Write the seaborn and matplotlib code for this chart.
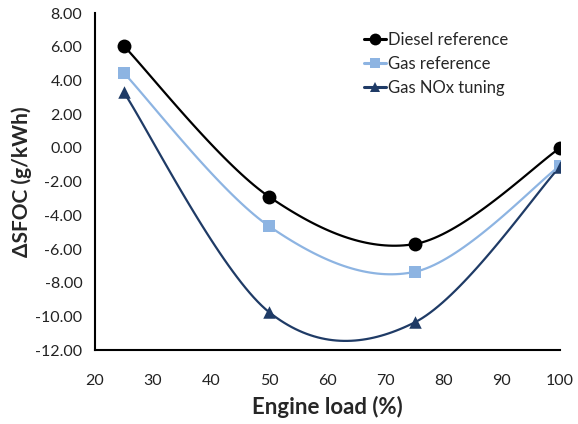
import numpy as np
import pandas as pd
import matplotlib
matplotlib.use("Agg")
import matplotlib.pyplot as plt
from matplotlib.lines import Line2D
import seaborn as sns

engine_load = [25, 50, 75, 100]
diesel_ref = [6.05, -2.90, -5.70, 0.00]
gas_ref = [4.45, -4.65, -7.35, -1.05]
gas_nox = [3.30, -9.75, -10.35, -1.10]

series_names = ["Diesel reference", "Gas reference", "Gas NOx tuning"]
series_values = [diesel_ref, gas_ref, gas_nox]
colors = ["#000000", "#8DB4E2", "#1F3B66"]
markers = ["o", "s", "^"]
marker_sizes = [10, 8, 9]


def smooth(xs, ys, n=40):
    # excel-like smoothed line: catmull-rom as cubic bezier segments
    pts = np.column_stack([xs, ys]).astype(float)
    out = []
    for i in range(len(pts) - 1):
        p0 = pts[i - 1] if i > 0 else pts[i]
        p1 = pts[i]
        p2 = pts[i + 1]
        p3 = pts[i + 2] if i + 2 < len(pts) else pts[i + 1]
        c1 = p1 + (p2 - p0) / 6
        c2 = p2 - (p3 - p1) / 6
        t = np.linspace(0, 1, n)[:, None]
        seg = ((1 - t) ** 3) * p1 + 3 * ((1 - t) ** 2) * t * c1 + 3 * (1 - t) * t ** 2 * c2 + t ** 3 * p2
        out.append(seg if i == 0 else seg[1:])
    out = np.vstack(out)
    return out[:, 0], out[:, 1]


sns.set_style("white")
plt.rcParams["font.family"] = ["Lato", "DejaVu Sans"]

fig = plt.figure(figsize=(5.78, 4.24), dpi=100)
ax = fig.add_axes([0.164, 0.174, 0.805, 0.795])

handles = []
for name, vals, c, m, ms in zip(series_names, series_values, colors, markers, marker_sizes):
    sx, sy = smooth(engine_load, vals)
    curve = pd.DataFrame({"x": sx, "y": sy})
    sns.lineplot(data=curve, x="x", y="y", ax=ax, color=c, lw=1.6, sort=False,
                 estimator=None, legend=False)
    pts = pd.DataFrame({"x": engine_load, "y": vals})
    sns.scatterplot(data=pts, x="x", y="y", ax=ax, color=c, marker=m, s=ms ** 2,
                    edgecolor=c, linewidth=0, legend=False, zorder=5)
    handles.append(Line2D([0], [0], color=c, lw=2.2, marker=m, markersize=ms * 0.85,
                          markeredgewidth=0, label=name))

ax.set_xlim(20, 100)
ax.set_ylim(-12, 8)
ax.set_xticks(np.arange(20, 101, 10))
ax.set_yticks(np.arange(-12, 8.1, 2))
ax.set_yticklabels([f"{v:.2f}" for v in np.arange(-12, 8.1, 2)])

for s in ["top", "right"]:
    ax.spines[s].set_visible(False)
for s in ["left", "bottom"]:
    ax.spines[s].set_color("black")
    ax.spines[s].set_linewidth(1.5)

ax.tick_params(axis="both", direction="out", length=5, width=1.5, color="black",
               labelsize=11.5, labelcolor="#222222", pad=4)
ax.tick_params(axis="x", pad=12)

ax.set_xlabel("Engine load (%)", fontsize=16, fontweight="bold", labelpad=6)
ax.set_ylabel("ΔSFOC (g/kWh)", fontsize=15, fontweight="bold", labelpad=2)

ax.legend(handles=handles, loc="upper right", bbox_to_anchor=(0.92, 0.99), frameon=False,
          fontsize=12, handlelength=1.3, handletextpad=0.1, labelspacing=0.5)

fig.savefig("out.png", dpi=100)
